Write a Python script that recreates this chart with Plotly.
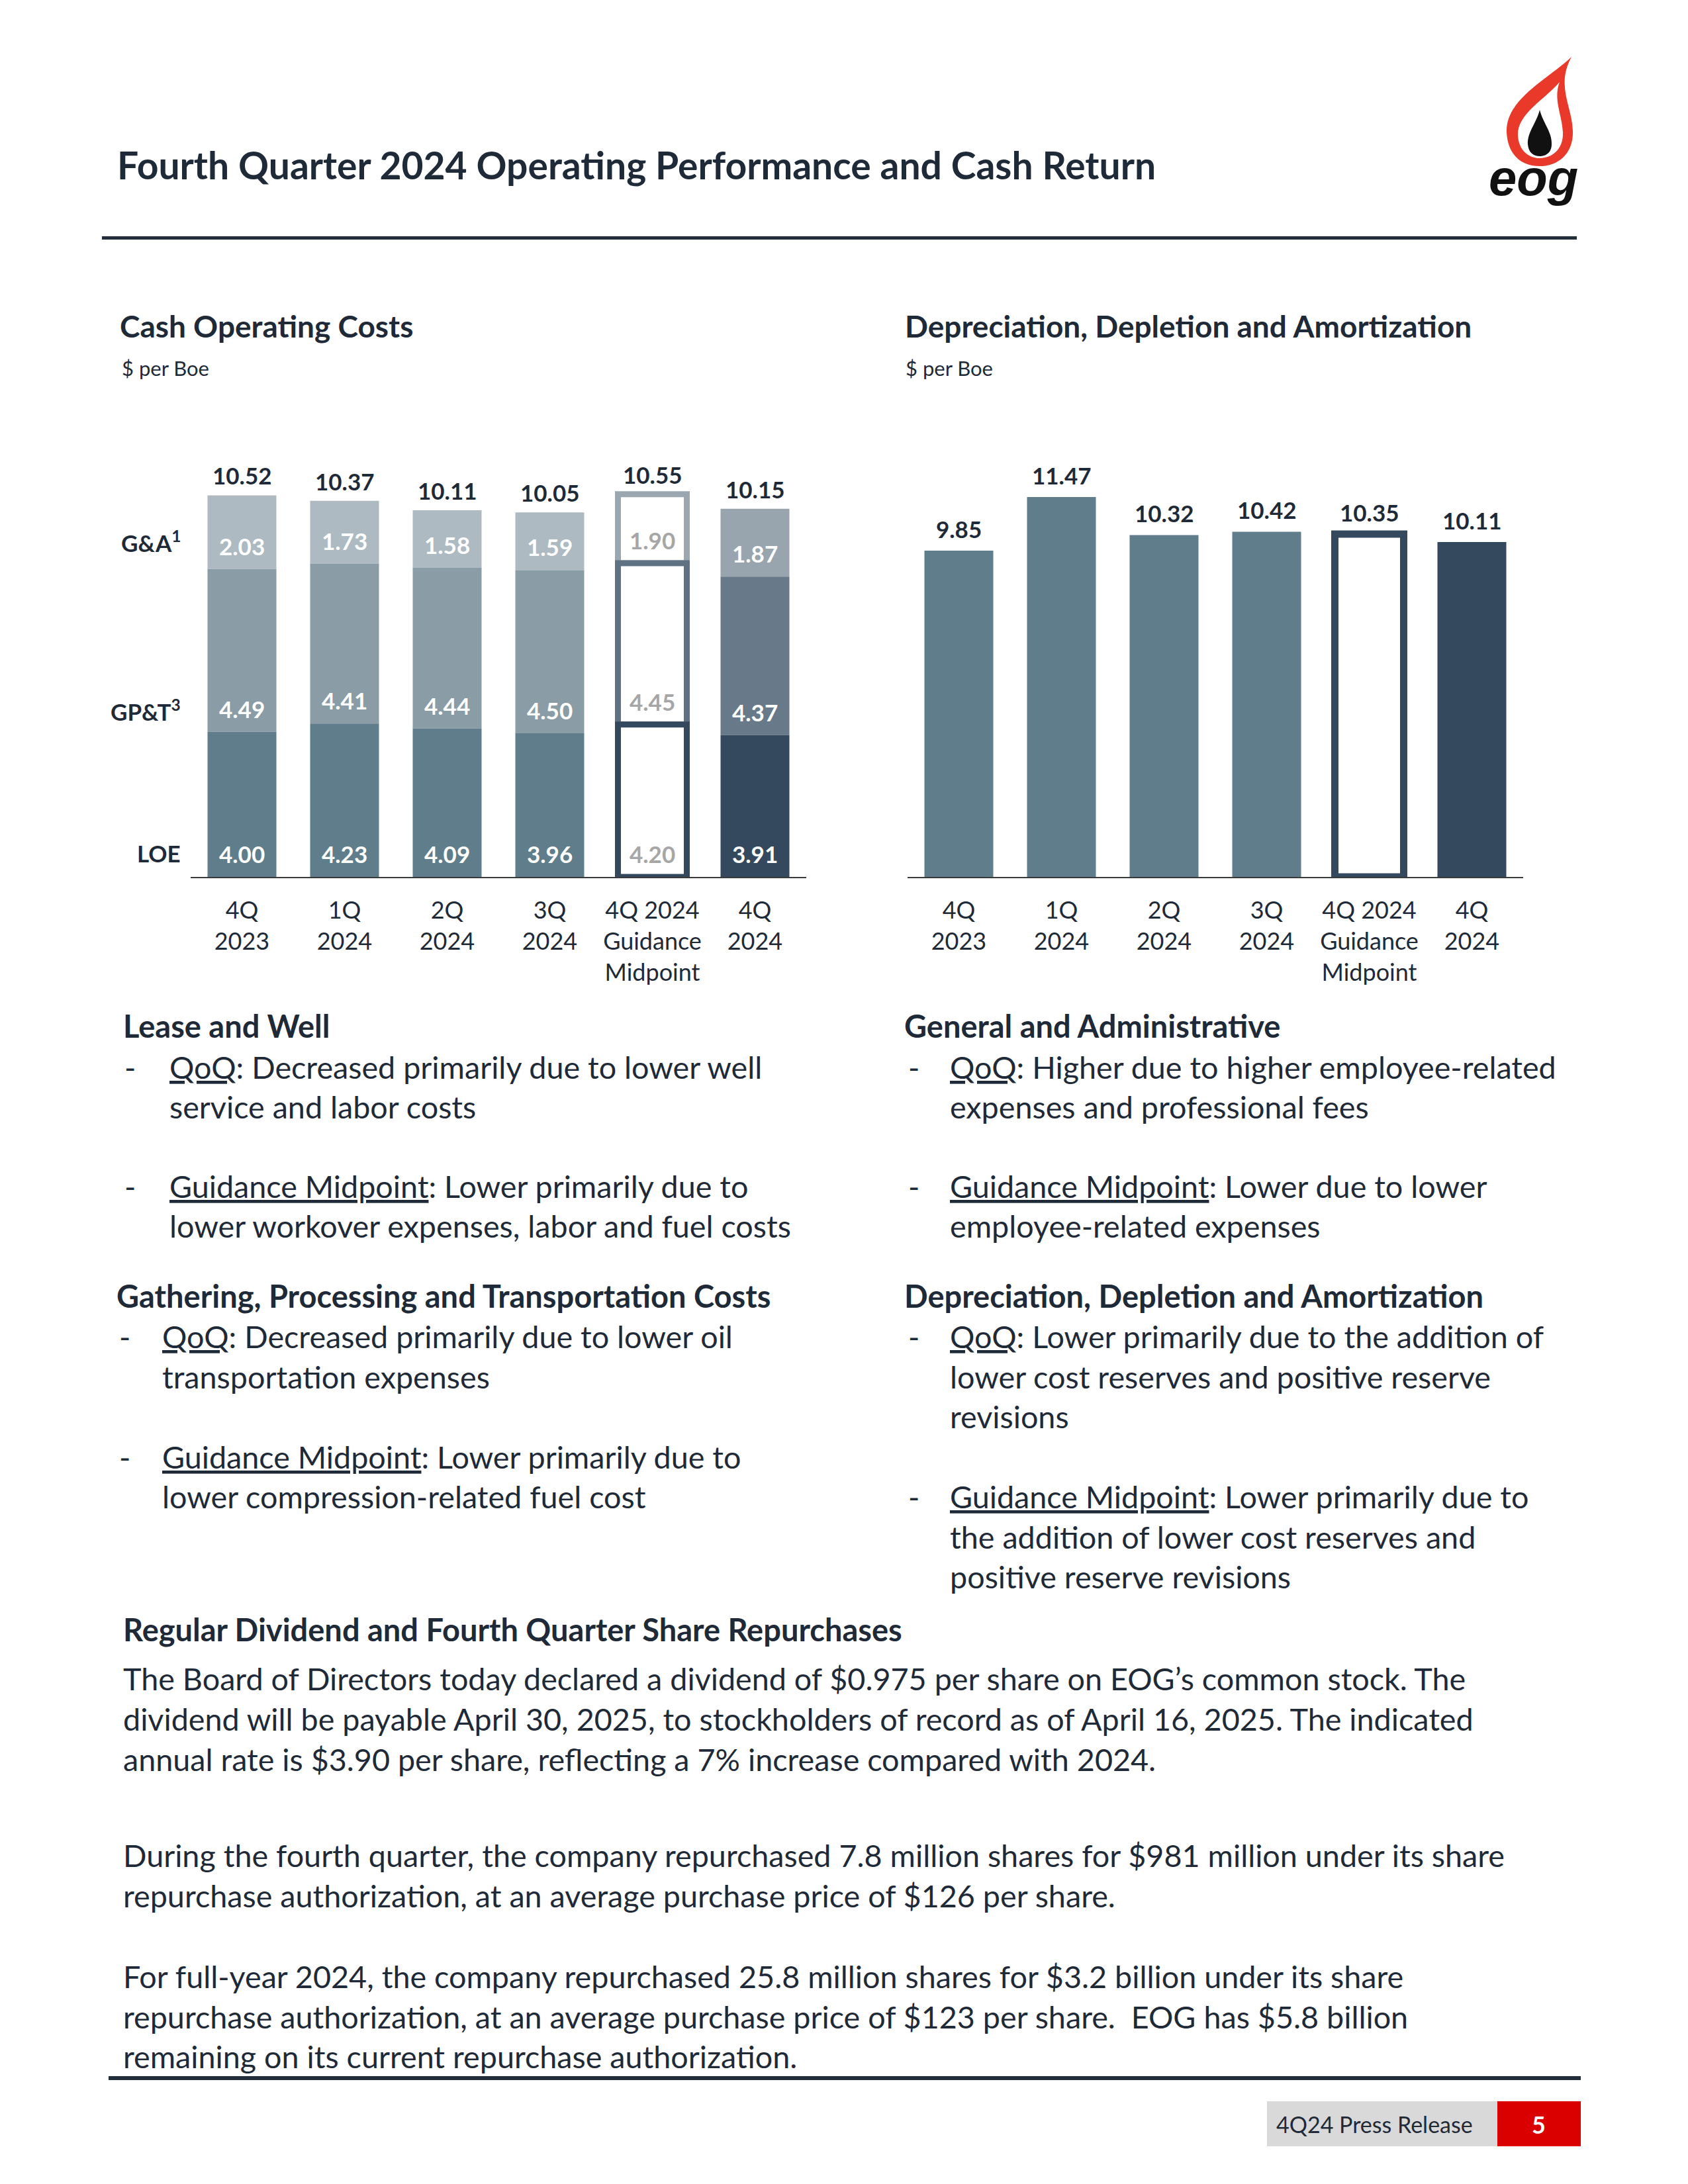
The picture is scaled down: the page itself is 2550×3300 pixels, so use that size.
import plotly.graph_objects as go

# page is 2550x3300; the browser body adds an 8px margin, so the figure is drawn 8px smaller
PAGE_W, PAGE_H = 2550, 3300
OFF = 8
W, H = PAGE_W - 2 * OFF, PAGE_H - 2 * OFF
FONT = "Lato"
DARK = "#1F2A38"

# ---------------- data ----------------
categories = ["4Q 2023", "1Q 2024", "2Q 2024", "3Q 2024", "4Q 2024 Guidance Midpoint", "4Q 2024"]
tick_labels = ["4Q<br>2023", "1Q<br>2024", "2Q<br>2024", "3Q<br>2024", "4Q 2024<br>Guidance<br>Midpoint", "4Q<br>2024"]

loe = [4.00, 4.23, 4.09, 3.96, 4.20, 3.91]
gpt = [4.49, 4.41, 4.44, 4.50, 4.45, 4.37]
gna = [2.03, 1.73, 1.58, 1.59, 1.90, 1.87]
cash_totals = [10.52, 10.37, 10.11, 10.05, 10.55, 10.15]

dda = [9.85, 11.47, 10.32, 10.42, 10.35, 10.11]

row_labels = ["G&A<sup>1</sup>", "GP&T<sup>3</sup>", "LOE"]

# ---------------- styles ----------------
LOE_FILL = ["#607D8B"] * 4 + ["white", "#35495E"]
GPT_FILL = ["#8A9CA6"] * 4 + ["white", "#687A8A"]
GNA_FILL = ["#ADBAC2"] * 4 + ["white", "#98A4AE"]
LOE_LINE = ["#607D8B"] * 4 + ["#35495E", "#35495E"]
GPT_LINE = ["#8A9CA6"] * 4 + ["#5E7284", "#687A8A"]
GNA_LINE = ["#ADBAC2"] * 4 + ["#9AA6B0", "#98A4AE"]
LINE_W = [0, 0, 0, 0, 9, 0]
LBL_COL = ["white"] * 4 + ["#A6A6A6", "white"]

DDA_FILL = ["#607D8B"] * 4 + ["white", "#35495E"]
DDA_LINE = ["#607D8B"] * 4 + ["#35495E", "#35495E"]
DDA_W = [0, 0, 0, 0, 11, 0]

NUM = 35


def xp(px):
    return (px - OFF) / W


def yp(py):
    return 1 - (py - OFF) / H


fig = go.Figure()

base_gpt = [a for a in loe]
base_gna = [a + b for a, b in zip(loe, gpt)]

# Left chart: overlay segments with explicit bases (top segment first so lower edges draw on top)
fig.add_trace(go.Bar(x=categories, y=gna, base=base_gna, xaxis="x", yaxis="y",
                     marker=dict(color=GNA_FILL, line=dict(color=GNA_LINE, width=LINE_W)),
                     cliponaxis=False, hoverinfo="skip"))
fig.add_trace(go.Bar(x=categories, y=gpt, base=base_gpt, xaxis="x", yaxis="y",
                     marker=dict(color=GPT_FILL, line=dict(color=GPT_LINE, width=LINE_W)),
                     cliponaxis=False, hoverinfo="skip"))
fig.add_trace(go.Bar(x=categories, y=loe, base=[0] * len(loe), xaxis="x", yaxis="y",
                     marker=dict(color=LOE_FILL, line=dict(color=LOE_LINE, width=LINE_W)),
                     cliponaxis=False, hoverinfo="skip"))

# Right chart
fig.add_trace(go.Bar(x=categories, y=dda, xaxis="x2", yaxis="y2",
                     marker=dict(color=DDA_FILL, line=dict(color=DDA_LINE, width=DDA_W)),
                     cliponaxis=False, hoverinfo="skip"))

ann = []

# segment labels (placed at segment base)
for seg_vals, seg_base in ((loe, [0] * 6), (gpt, base_gpt), (gna, base_gna)):
    for c, v, b, col in zip(categories, seg_vals, seg_base, LBL_COL):
        ann.append(dict(xref="x", yref="y", x=c, y=b, yanchor="bottom", yshift=12,
                        text=f"{v:.2f}", showarrow=False,
                        font=dict(family=FONT, size=NUM, color=col, weight=700)))
for c, t in zip(categories, cash_totals):
    ann.append(dict(xref="x", yref="y", x=c, y=t, yanchor="bottom", yshift=7,
                    text=f"{t:.2f}", showarrow=False,
                    font=dict(family=FONT, size=NUM, color=DARK, weight=700)))
for c, t in zip(categories, dda):
    ann.append(dict(xref="x2", yref="y2", x=c, y=t, yanchor="bottom", yshift=10,
                    text=f"{t:.2f}", showarrow=False,
                    font=dict(family=FONT, size=NUM, color=DARK, weight=700)))


def px_txt(x, baseline, s, size, bold=False, color=DARK, anchor="left", italic=False, family=FONT):
    yc = baseline - 0.387 * size
    ann.append(dict(xref="paper", yref="paper", x=xp(x), y=yp(yc), xanchor=anchor,
                    yanchor="middle", text=s, showarrow=False,
                    font=dict(family=family, size=size, color=color, weight=700 if bold else 400,
                              style="italic" if italic else "normal")))


# row labels for left chart
for lbl, bl in zip(row_labels, [832, 1087, 1303]):
    px_txt(275, bl, lbl, 35, bold=True, anchor="right")

# titles
px_txt(175, 271, "Fourth Quarter 2024 Operating Performance and Cash Return", 57, bold=True)
px_txt(179, 510, "Cash Operating Costs", 46, bold=True)
px_txt(182, 568, "$ per Boe", 31)
px_txt(1365, 510, "Depreciation, Depletion and Amortization", 46, bold=True)
px_txt(1366, 568, "$ per Boe", 31)

# commentary blocks
BODY = 46.7
HEAD = 47


def block(xh, xd, xt, yh, heading, lines):
    px_txt(xh, yh, heading, HEAD, bold=True)
    for kind, y, s in lines:
        if kind == "b":
            px_txt(xd, y, "-", BODY)
        px_txt(xt, y, s, BODY)


block(184, 186, 254, 1568, "Lease and Well", [
    ("b", 1630, "<u>QoQ</u>: Decreased primarily due to lower well"),
    ("c", 1690, "service and labor costs"),
    ("b", 1810, "<u>Guidance Midpoint</u>: Lower primarily due to"),
    ("c", 1870, "lower workover expenses, labor and fuel costs"),
])
block(174, 178, 243, 1976, "Gathering, Processing and Transportation Costs", [
    ("b", 2037, "<u>QoQ</u>: Decreased primarily due to lower oil"),
    ("c", 2098, "transportation expenses"),
    ("b", 2219, "<u>Guidance Midpoint</u>: Lower primarily due to"),
    ("c", 2279, "lower compression-related fuel cost"),
])
block(1364, 1370, 1433, 1568, "General and Administrative", [
    ("b", 1630, "<u>QoQ</u>: Higher due to higher employee-related"),
    ("c", 1690, "expenses and professional fees"),
    ("b", 1810, "<u>Guidance Midpoint</u>: Lower due to lower"),
    ("c", 1870, "employee-related expenses"),
])
block(1364, 1370, 1433, 1976, "Depreciation, Depletion and Amortization", [
    ("b", 2037, "<u>QoQ</u>: Lower primarily due to the addition of"),
    ("c", 2098, "lower cost reserves and positive reserve"),
    ("c", 2158, "revisions"),
    ("b", 2279, "<u>Guidance Midpoint</u>: Lower primarily due to"),
    ("c", 2340, "the addition of lower cost reserves and"),
    ("c", 2400, "positive reserve revisions"),
])

px_txt(184, 2480, "Regular Dividend and Fourth Quarter Share Repurchases", HEAD, bold=True)
para = [
    (2554, "The Board of Directors today declared a dividend of $0.975 per share on EOG’s common stock. The"),
    (2615, "dividend will be payable April 30, 2025, to stockholders of record as of April 16, 2025. The indicated"),
    (2676, "annual rate is $3.90 per share, reflecting a 7% increase compared with 2024."),
    (2821, "During the fourth quarter, the company repurchased 7.8 million shares for $981 million under its share"),
    (2882, "repurchase authorization, at an average purchase price of $126 per share."),
    (3004, "For full-year 2024, the company repurchased 25.8 million shares for $3.2 billion under its share"),
    (3065, "repurchase authorization, at an average purchase price of $123 per share.  EOG has $5.8 billion"),
    (3125, "remaining on its current repurchase authorization."),
]
for y, s in para:
    px_txt(184, y, s, BODY)

# footer text
px_txt(1926, 3223, "4Q24 Press Release", 34)
px_txt(2324, 3224, "5", 36, bold=True, color="white", anchor="center")

# logo text
px_txt(2316, 298, "eog", 76, bold=True, italic=True, color="#111111", anchor="center",
       family="Liberation Sans")


# ---------------- shapes ----------------
def P(x, y):
    return f"{xp(x):.5f},{yp(y):.5f}"


def rect(x0, y0, x1, y1, color):
    return dict(type="rect", xref="paper", yref="paper", x0=xp(x0), x1=xp(x1),
                y0=yp(y1), y1=yp(y0), fillcolor=color, line=dict(width=0))


shapes = [
    rect(154, 357, 2382, 362, "#222E3C"),      # header rule
    rect(164, 3137, 2388, 3143, "#222E3C"),    # footer rule
    rect(1914, 3175, 2262, 3243, "#D9D9D9"),   # footer grey box
    rect(2262, 3175, 2388, 3243, "#DA0000"),   # footer red box
]

# flame logo
red = (f"M {P(2374, 86)} C {P(2338, 120)} {P(2274, 150)} {P(2276, 200)} "
       f"C {P(2278, 236)} {P(2300, 251)} {P(2326, 251)} C {P(2354, 251)} {P(2377, 232)} {P(2376, 198)} "
       f"C {P(2375, 160)} {P(2350, 130)} {P(2374, 86)} Z")
white = (f"M {P(2356, 124)} C {P(2334, 150)} {P(2292, 172)} {P(2293, 204)} "
         f"C {P(2294, 228)} {P(2310, 239)} {P(2326, 239)} C {P(2344, 239)} {P(2362, 226)} {P(2361, 200)} "
         f"C {P(2360, 174)} {P(2346, 150)} {P(2356, 124)} Z")
drop = (f"M {P(2326, 166)} C {P(2321, 186)} {P(2307, 200)} {P(2308, 218)} "
        f"C {P(2309, 231)} {P(2317, 236)} {P(2326, 236)} C {P(2335, 236)} {P(2344, 231)} {P(2344, 218)} "
        f"C {P(2345, 200)} {P(2331, 186)} {P(2326, 166)} Z")
shapes.append(dict(type="path", xref="paper", yref="paper", path=red, fillcolor="#E8392B", line=dict(width=0)))
shapes.append(dict(type="path", xref="paper", yref="paper", path=white, fillcolor="white", line=dict(width=0)))
shapes.append(dict(type="path", xref="paper", yref="paper", path=drop, fillcolor="#111111", line=dict(width=0)))

# ---------------- layout ----------------
y_dom = [yp(1325), yp(680)]
axis_common = dict(type="category", showline=True, linecolor="#3A3A3A", linewidth=2,
                   showgrid=False, zeroline=False, ticks="", tickmode="array",
                   tickvals=categories, ticktext=tick_labels, ticklabelstandoff=18,
                   tickfont=dict(family=FONT, size=36, color=DARK), fixedrange=True)

fig.update_layout(
    width=W, height=H,
    margin=dict(l=0, r=0, t=0, b=0),
    paper_bgcolor="white", plot_bgcolor="white",
    showlegend=False,
    barmode="overlay", bargap=0.329,
    font=dict(family=FONT, color=DARK),
    xaxis=dict(domain=[xp(288), xp(1218)], anchor="y", **axis_common),
    yaxis=dict(domain=y_dom, anchor="x", range=[0, 645 / 54.8], visible=False, fixedrange=True),
    xaxis2=dict(domain=[xp(1371), xp(2301)], anchor="y2", **axis_common),
    yaxis2=dict(domain=y_dom, anchor="x2", range=[0, 645 / 50.05], visible=False, fixedrange=True),
    annotations=ann,
    shapes=shapes,
)

fig.write_html("out.html")
